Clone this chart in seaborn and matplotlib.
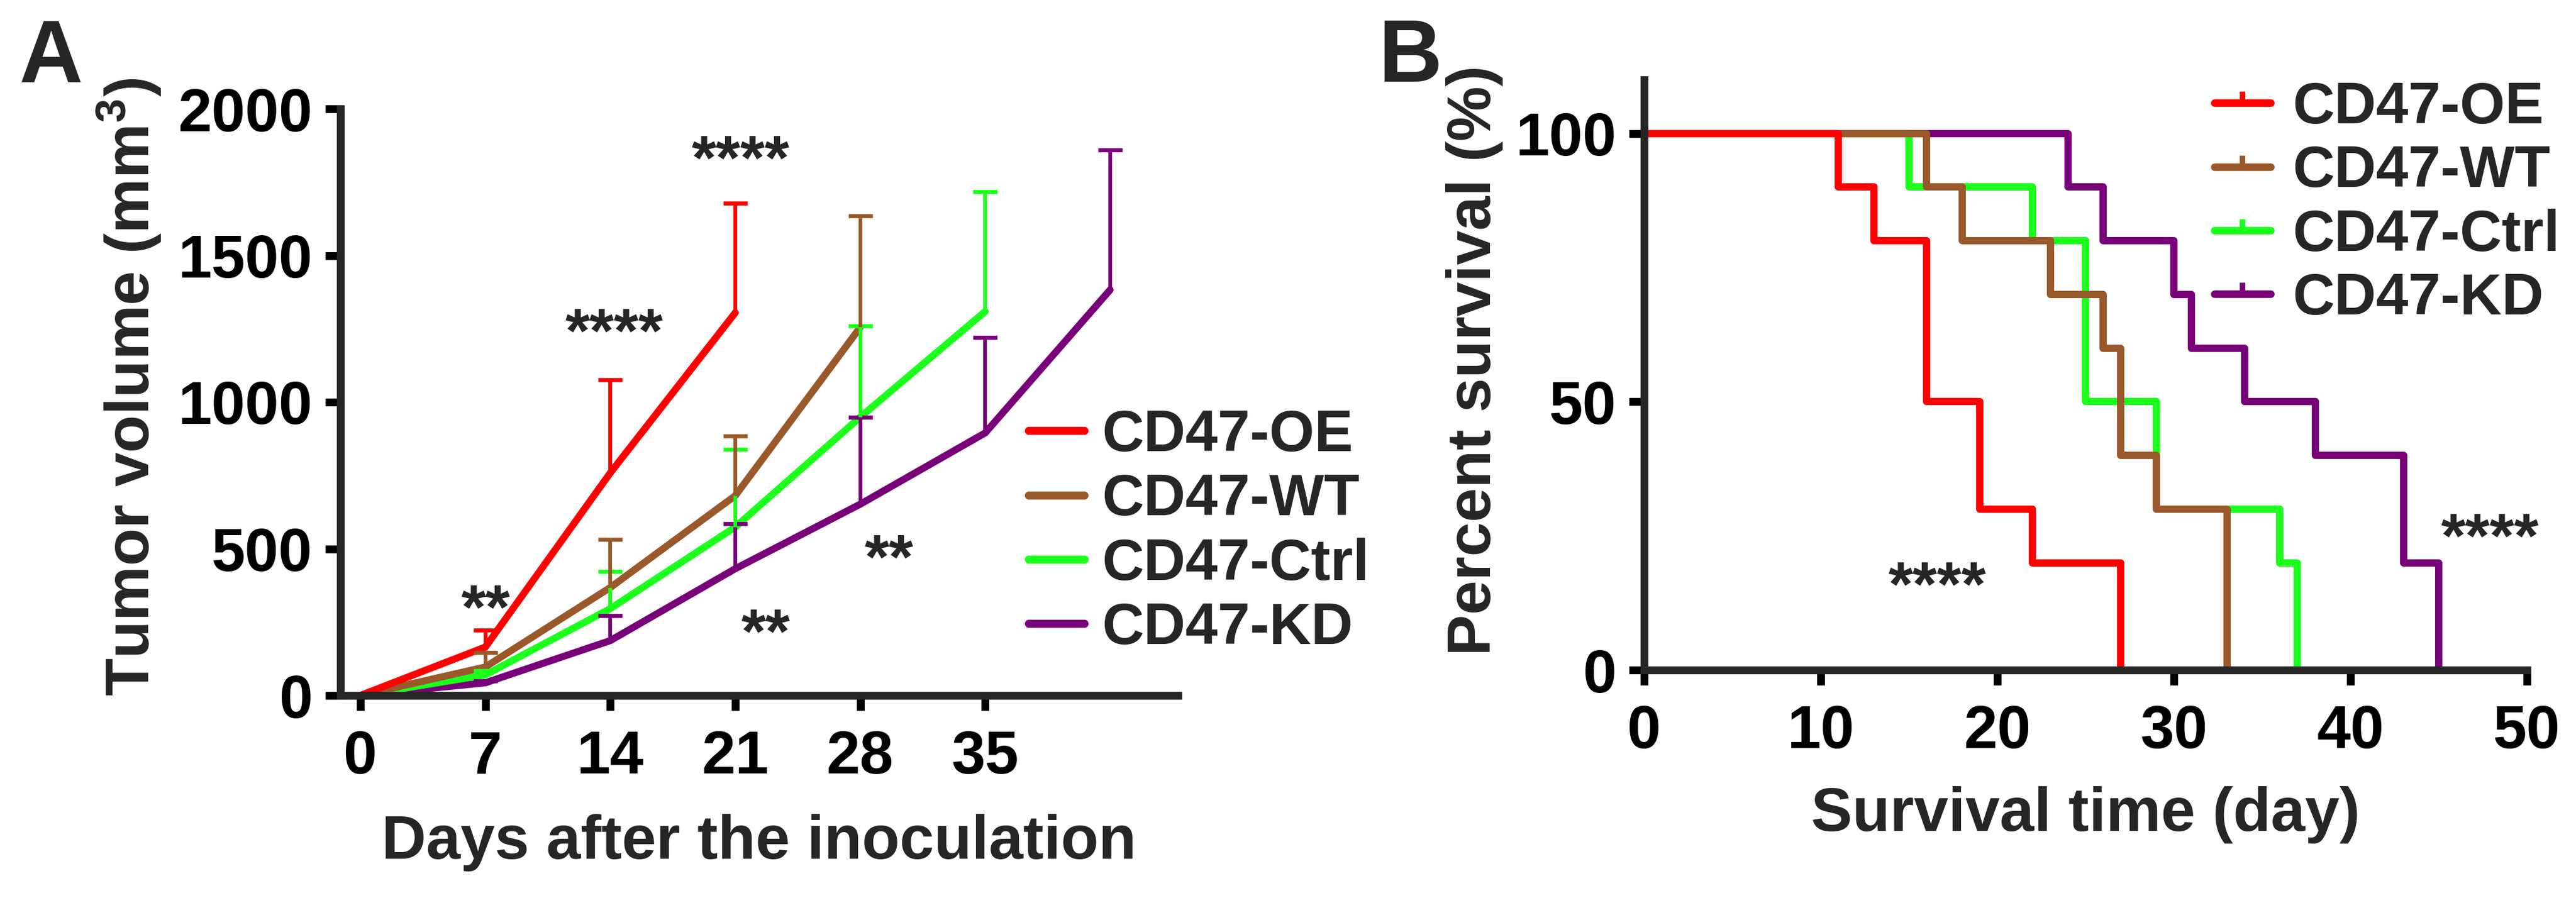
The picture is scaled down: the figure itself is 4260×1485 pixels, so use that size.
import numpy as np
import pandas as pd
import matplotlib
matplotlib.use("Agg")
import matplotlib.pyplot as plt
from matplotlib.lines import Line2D
import seaborn as sns

# groups and colours
groups = ["CD47-OE", "CD47-WT", "CD47-Ctrl", "CD47-KD"]
draw_order = ["CD47-KD", "CD47-Ctrl", "CD47-WT", "CD47-OE"]
colors = {"CD47-OE": "#FF0000", "CD47-WT": "#99592A",
          "CD47-Ctrl": "#1CFF1C", "CD47-KD": "#780078"}

# panel A: tumour volume (mean and upper error) per day
days = [0, 7, 14, 21, 28, 35, 42]
vol_oe = [0, 165, 759, 1305]
err_oe = [0, 58, 317, 374]
vol_wt = [0, 97, 368, 681, 1255]
err_wt = [0, 49, 163, 204, 381]
vol_ctrl = [0, 70, 296, 574, 949, 1309]
err_ctrl = [0, 15, 126, 266, 310, 409]
vol_kd = [0, 43, 187, 432, 652, 895, 1383]
err_kd = [0, 7, 85, 154, 297, 325, 477]
day_ticks = [0, 7, 14, 21, 28, 35]
vol_ticks = [0, 500, 1000, 1500, 2000]

# significance marks panel A: (x, baseline y, text)
stars_a_x = [7, 14.2, 21.3, 22.7, 29.6]
stars_a_y = [229, 1171, 1761, 146, 400]
stars_a_txt = ["**", "****", "****", "**", "**"]

# panel B: Kaplan-Meier steps (day, percent survival)
surv_day_oe = [0, 11, 13, 16, 19, 22, 27]
surv_oe = [100, 90, 80, 50, 30, 20, 0]
surv_day_wt = [0, 16, 18, 23, 26, 27, 29, 33]
surv_wt = [100, 90, 80, 70, 60, 40, 30, 0]
surv_day_ctrl = [0, 15, 22, 25, 29, 36, 37]
surv_ctrl = [100, 90, 80, 50, 30, 20, 0]
surv_day_kd = [0, 24, 26, 30, 31, 34, 38, 43, 45]
surv_kd = [100, 90, 80, 70, 60, 50, 40, 20, 0]
surv_xticks = [0, 10, 20, 30, 40, 50]
surv_yticks = [0, 50, 100]

stars_b_x = [16.6, 47.9]
stars_b_y = [12, 21]
stars_b_txt = ["****", "****"]

growth = pd.concat([
    pd.DataFrame({"day": days[:len(v)], "volume": v, "err": e, "group": g})
    for g, v, e in zip(groups, [vol_oe, vol_wt, vol_ctrl, vol_kd],
                       [err_oe, err_wt, err_ctrl, err_kd])
], ignore_index=True)

survival = pd.concat([
    pd.DataFrame({"day": d, "surv": s, "group": g})
    for g, d, s in zip(groups, [surv_day_oe, surv_day_wt, surv_day_ctrl, surv_day_kd],
                       [surv_oe, surv_wt, surv_ctrl, surv_kd])
], ignore_index=True)

sns.set_style("ticks")
plt.rcParams["font.family"] = ["Liberation Sans", "DejaVu Sans"]
plt.rcParams["font.weight"] = "bold"
plt.rcParams["axes.labelweight"] = "bold"
plt.rcParams["mathtext.fontset"] = "custom"
plt.rcParams["mathtext.rm"] = "Liberation Sans:bold"
plt.rcParams["mathtext.it"] = "Liberation Sans:bold"
plt.rcParams["mathtext.bf"] = "Liberation Sans:bold"

W, H = 4260, 1485
fig = plt.figure(figsize=(W / 300, H / 300), dpi=300)

axis_lw = 3.1

# ---- panel A ----
axA = fig.add_axes([563 / W, 1 - 1150 / H, (1948 - 563) / W, (1150 - 180) / H])
sns.lineplot(data=growth, x="day", y="volume", hue="group", hue_order=draw_order,
             palette=colors, estimator=None, linewidth=2.8, legend=False, ax=axA)
for g in draw_order:
    sub = growth[(growth.group == g) & (growth.err > 0)]
    _, caps, _ = axA.errorbar(sub.day, sub.volume, yerr=[np.zeros(len(sub)), sub.err],
                              fmt="none", ecolor=colors[g], elinewidth=1.5,
                              capsize=4.7, capthick=1.6)
    for c in caps:
        if np.allclose(c.get_ydata(), sub.volume):
            c.set_visible(False)

for x, y, t in zip(stars_a_x, stars_a_y, stars_a_txt):
    axA.text(x, y, t, ha="center", va="baseline", fontsize=25)

axA.set_xlim(-1.12, 45.8)
axA.set_ylim(0, 2000)
axA.set_xticks(day_ticks)
axA.set_yticks(vol_ticks)
axA.set_xlabel("Days after the inoculation", fontsize=24.5, labelpad=11)
axA.set_ylabel("Tumor volume (mm$^3$)", fontsize=24.5, labelpad=6, y=0.526)

handlesA = [Line2D([], [], color=colors[g], lw=3.2) for g in groups]
axA.legend(handlesA, groups, loc="upper left", bbox_to_anchor=(1701 / W, 1 - 676 / H),
           bbox_transform=fig.transFigure, frameon=False, fontsize=23,
           handlelength=0.96, handletextpad=0.3, labelspacing=0.17,
           borderpad=0, borderaxespad=0)

# ---- panel B ----
axB = fig.add_axes([2719 / W, 1 - 1108 / H, (4179 - 2719) / W, (1108 - 132) / H])
sns.lineplot(data=survival, x="day", y="surv", hue="group", hue_order=draw_order,
             palette=colors, estimator=None, linewidth=2.9, drawstyle="steps-post",
             legend=False, ax=axB)

for x, y, t in zip(stars_b_x, stars_b_y, stars_b_txt):
    axB.text(x, y, t, ha="center", va="baseline", fontsize=25)

axB.set_xlim(0, 50)
axB.set_ylim(0, 110)
axB.set_xticks(surv_xticks)
axB.set_yticks(surv_yticks)
axB.set_xlabel("Survival time (day)", fontsize=24.5, labelpad=10)
axB.set_ylabel("Percent survival (%)", fontsize=24.5, labelpad=5, y=0.525)

handlesB = [Line2D([], [], color=colors[g], lw=3, marker=2, markersize=4.5,
                   markeredgewidth=2.2) for g in groups]
axB.legend(handlesB, groups, loc="upper left", bbox_to_anchor=(3662 / W, 1 - 134 / H),
           bbox_transform=fig.transFigure, frameon=False, fontsize=23,
           handlelength=0.97, handletextpad=0.38, labelspacing=0.16,
           borderpad=0, borderaxespad=0)

for ax in (axA, axB):
    sns.despine(ax=ax)
    for s in ("left", "bottom"):
        ax.spines[s].set_linewidth(axis_lw)
        ax.spines[s].set_capstyle("projecting")
    ax.tick_params(width=axis_lw, length=6, labelsize=24, colors="black")
    ax.tick_params(axis="y", pad=5)
    ax.tick_params(axis="x", pad=7.5)
    for lbl in ax.get_xticklabels() + ax.get_yticklabels():
        lbl.set_fontweight("bold")

fig.text(31 / W, 1 - 30 / H, "A", fontsize=35, fontweight="bold", va="top", ha="left")
fig.text(2279 / W, 1 - 29 / H, "B", fontsize=35, fontweight="bold", va="top", ha="left")

fig.savefig("out.png", dpi=300, facecolor="white")
